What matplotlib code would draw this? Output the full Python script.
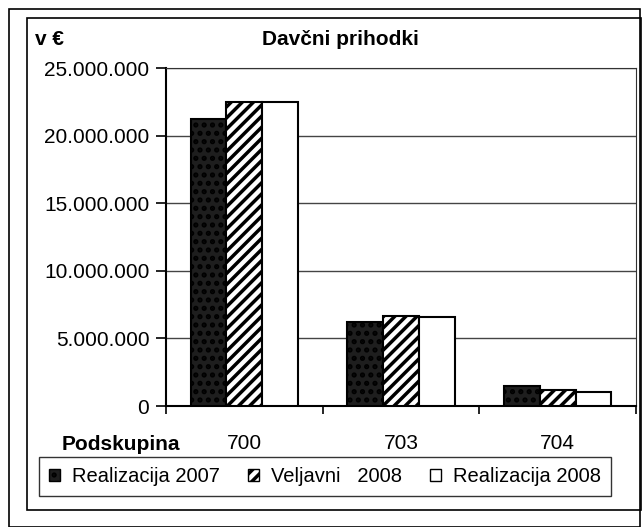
import matplotlib
matplotlib.use("Agg")
import matplotlib.pyplot as plt
from matplotlib.patches import Rectangle, Patch
from matplotlib.ticker import FuncFormatter
import numpy as np

plt.rcParams['font.family'] = ['Liberation Sans', 'DejaVu Sans']
plt.rcParams['hatch.linewidth'] = 2.5

categories = ['700', '703', '704']
series_names = ['Realizacija 2007', 'Veljavni   2008', 'Realizacija 2008']
real_2007 = [21250000, 6250000, 1480000]
velj_2008 = [22500000, 6670000, 1200000]
real_2008 = [22500000, 6550000, 1020000]
yticks = [0, 5000000, 10000000, 15000000, 20000000, 25000000]

W, H = 642, 527
fig = plt.figure(figsize=(W / 100, H / 100), dpi=100)
fig.patch.set_facecolor('white')

def fx(x): return x / W
def fy(y): return 1 - y / H

# outer frame and chart area frame
fig.add_artist(Rectangle((fx(9), fy(527)), fx(640) - fx(9), fy(9) - fy(527),
                         transform=fig.transFigure, fill=False, lw=1.2, ec='black'))
fig.add_artist(Rectangle((fx(27), fy(510)), fx(641) - fx(27), fy(18) - fy(510),
                         transform=fig.transFigure, fill=False, lw=1.2, ec='black'))

ax = fig.add_axes([fx(166), fy(406), fx(636) - fx(166), fy(68) - fy(406)])
x = np.arange(len(categories))
w = 0.228
ax.bar(x - w, real_2007, w, color='#1e1e1e', edgecolor='black', lw=1.5,
       hatch='..', zorder=3)
ax.bar(x, velj_2008, w, color='white', edgecolor='black', lw=1.5,
       hatch='///', zorder=3)
ax.bar(x + w, real_2008, w, color='white', edgecolor='black', lw=1.5, zorder=3)

ax.set_xlim(-0.5, len(categories) - 0.5)
ax.set_ylim(0, 25000000)
ax.set_yticks(yticks)
ax.yaxis.set_major_formatter(FuncFormatter(lambda v, p: f"{int(v):,}".replace(',', '.')))
ax.grid(axis='y', color='#444444', lw=1.0, zorder=0)
ax.set_xticks(np.arange(-0.5, len(categories), 1.0))
ax.set_xticklabels([])
ax.tick_params(axis='x', direction='out', length=6, width=1.2, color='black')
ax.tick_params(axis='y', direction='out', length=7, width=1.2, color='black',
               labelsize=15, pad=5)
for s in ['left', 'bottom']:
    ax.spines[s].set_linewidth(1.5)
for s in ['top', 'right']:
    ax.spines[s].set_linewidth(0.8)
    ax.spines[s].set_linestyle((0, (2, 1)))
    ax.spines[s].set_color('#333333')
for i, c in enumerate(categories):
    ax.text(i, (406 - 449) / 338, c, transform=ax.get_xaxis_transform(), ha='center',
            va='baseline', fontsize=15)

fig.text(fx(35), fy(45), 'v €', fontsize=15, fontweight='bold', va='baseline', ha='left')
fig.text(fx(340), fy(45), 'Davčni prihodki', fontsize=15, fontweight='bold',
         va='baseline', ha='center')
fig.text(fx(62), fy(450), 'Podskupina', fontsize=15, fontweight='bold',
         va='baseline', ha='left')

handles = [Patch(facecolor='#1e1e1e', edgecolor='black', hatch='..', lw=1),
           Patch(facecolor='white', edgecolor='black', hatch='///', lw=1),
           Patch(facecolor='white', edgecolor='black', lw=1)]
leg = fig.legend(handles, series_names, ncol=3, loc='center',
                 bbox_to_anchor=(fx(325), fy(476.5)),
                 borderaxespad=0, fontsize=14.5, frameon=True, fancybox=False,
                 handlelength=0.55, handleheight=0.55, handletextpad=0.6,
                 columnspacing=1.4, borderpad=0.5)
leg.get_frame().set_edgecolor('black')
leg.get_frame().set_linewidth(1.0)

fig.savefig('out.png', dpi=100, facecolor='white')
